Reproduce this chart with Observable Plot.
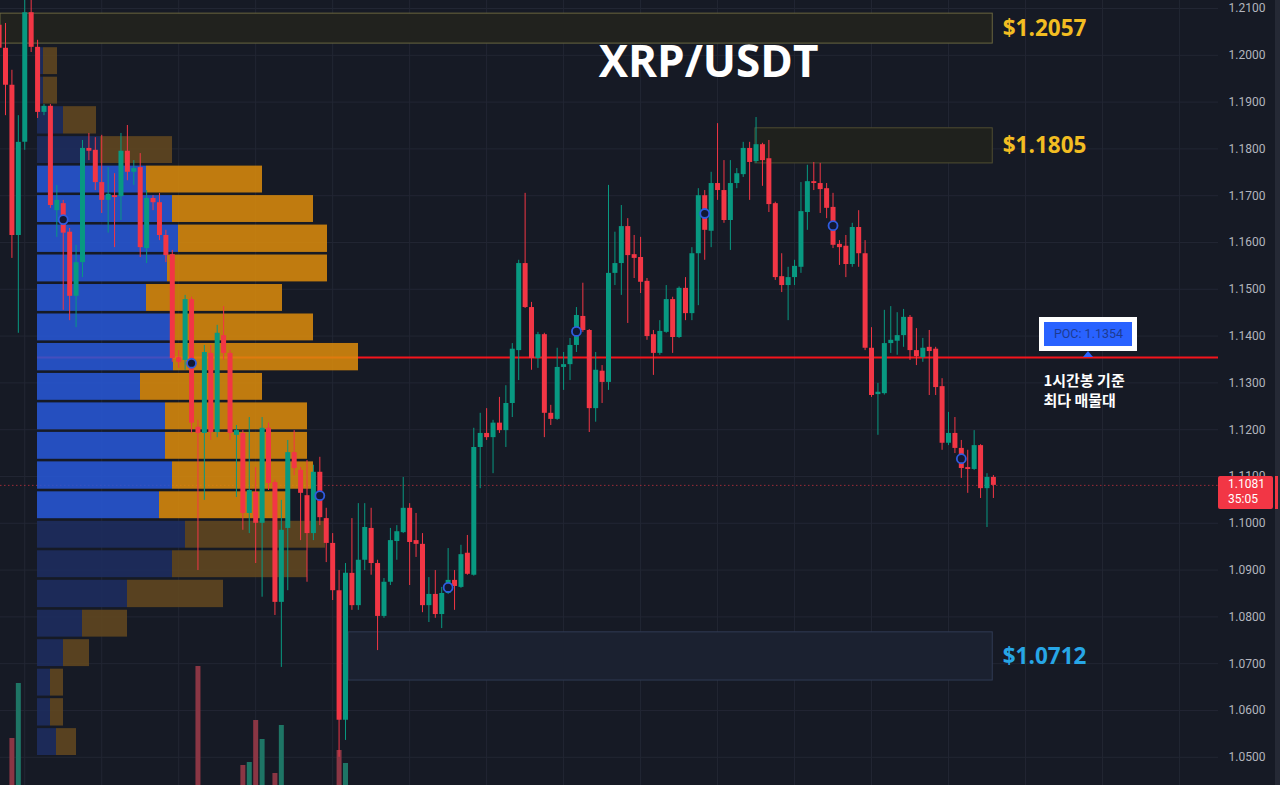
<!DOCTYPE html>
<html><head><meta charset="utf-8">
<script src="https://cdn.jsdelivr.net/npm/d3@7"></script>
<script src="https://cdn.jsdelivr.net/npm/@observablehq/plot@0.6"></script>
<style>
html,body{margin:0;padding:0;background:#161a25;}
#wrap{position:relative;width:1280px;height:785px;overflow:hidden;background:#161a25;}
#wrap svg{position:absolute;left:0;top:0;}
.ov{position:absolute;box-sizing:border-box;}
</style></head><body><div id="wrap"></div>
<script>
// ---------- data (1h candles, index -1 .. 154) ----------
const firstIndex = -1;
const opens = [1.2064,1.2015,1.1936,1.1615,1.1814,1.2091,1.2017,1.1878,1.1891,1.1668,1.1683,1.1622,1.1485,1.1557,1.1801,1.1797,1.1728,1.1690,1.1700,1.1698,1.1795,1.1750,1.1760,1.1587,1.1694,1.1685,1.1615,1.1574,1.1354,1.1348,1.1478,1.1205,1.1192,1.1363,1.1194,1.1401,1.1363,1.1188,1.1192,1.1021,1.1066,1.1000,1.1203,1.1087,1.0831,1.0989,1.1151,1.1113,1.1059,1.0978,1.1109,1.1010,1.0957,1.0856,1.0579,1.0893,1.0824,1.0921,1.0989,1.0914,1.0801,1.0874,1.0961,1.0980,1.1032,1.0963,1.0955,1.0824,1.0848,1.0805,1.0850,1.0878,1.0863,1.0936,1.0889,1.1162,1.1192,1.1183,1.1214,1.1198,1.1256,1.1369,1.1555,1.1461,1.1352,1.1403,1.1235,1.1222,1.1333,1.1339,1.1380,1.1442,1.1412,1.1245,1.1325,1.1301,1.1534,1.1555,1.1634,1.1574,1.1568,1.1517,1.1403,1.1363,1.1408,1.1478,1.1397,1.1502,1.1448,1.1576,1.1700,1.1624,1.1726,1.1711,1.1647,1.1726,1.1745,1.1801,1.1773,1.1809,1.1779,1.1683,1.1527,1.1508,1.1525,1.1547,1.1664,1.1730,1.1726,1.1715,1.1675,1.1596,1.1592,1.1553,1.1632,1.1576,1.1374,1.1275,1.1277,1.1384,1.1389,1.1401,1.1440,1.1369,1.1354,1.1376,1.1372,1.1292,1.1171,1.1192,1.1160,1.1119,1.1115,1.1166,1.1074,1.1098];
const highs = [1.2079,1.2068,1.1968,1.1871,1.2125,1.2122,1.2032,1.1895,1.1895,1.1722,1.1690,1.1630,1.1594,1.1818,1.1833,1.1824,1.1829,1.1760,1.1747,1.1833,1.1850,1.1775,1.1790,1.1711,1.1700,1.1705,1.1626,1.1583,1.1369,1.1487,1.1483,1.1220,1.1380,1.1380,1.1423,1.1463,1.1369,1.1209,1.1198,1.1226,1.1119,1.1226,1.1214,1.1092,1.1049,1.1177,1.1198,1.1119,1.1134,1.1124,1.1141,1.1032,1.0978,1.0899,1.0914,1.1010,1.1042,1.1042,1.1032,1.0921,1.0882,1.0989,1.0995,1.1098,1.1042,1.1021,1.0978,1.0884,1.0899,1.0863,1.0946,1.0899,1.0953,1.0974,1.1203,1.1235,1.1245,1.1220,1.1269,1.1294,1.1384,1.1562,1.1705,1.1472,1.1408,1.1406,1.1252,1.1374,1.1365,1.1395,1.1461,1.1513,1.1414,1.1365,1.1337,1.1722,1.1622,1.1679,1.1651,1.1615,1.1611,1.1523,1.1412,1.1433,1.1508,1.1483,1.1505,1.1525,1.1589,1.1715,1.1711,1.1750,1.1854,1.1775,1.1775,1.1758,1.1814,1.1814,1.1867,1.1812,1.1818,1.1686,1.1576,1.1547,1.1562,1.1728,1.1765,1.1771,1.1769,1.1726,1.1705,1.1604,1.1615,1.1641,1.1668,1.1604,1.1418,1.1299,1.1455,1.1463,1.1450,1.1457,1.1444,1.1416,1.1395,1.1412,1.1376,1.1309,1.1237,1.1226,1.1177,1.1156,1.1198,1.1168,1.1106,1.1102];
const lows = [1.2010,1.1871,1.1566,1.1406,1.1797,1.2006,1.1865,1.1871,1.1673,1.1611,1.1455,1.1433,1.1418,1.1525,1.1775,1.1711,1.1662,1.1620,1.1589,1.1647,1.1732,1.1722,1.1568,1.1555,1.1668,1.1604,1.1557,1.1344,1.1331,1.1327,1.1192,1.0899,1.1049,1.1177,1.1183,1.1348,1.1177,1.1055,1.0985,1.0978,1.0914,1.0842,1.1070,1.0803,1.0692,1.0856,1.1102,1.0963,1.0874,1.0963,1.0995,1.0916,1.0835,1.0500,1.0536,1.0814,1.0814,1.0899,1.0889,1.0728,1.0797,1.0867,1.0921,1.0978,1.0867,1.0927,1.0809,1.0788,1.0797,1.0775,1.0848,1.0814,1.0861,1.0889,1.0887,1.1074,1.1177,1.1106,1.1192,1.1162,1.1226,1.1305,1.1459,1.1327,1.1331,1.1183,1.1209,1.1220,1.1284,1.1305,1.1365,1.1408,1.1194,1.1216,1.1256,1.1284,1.1508,1.1487,1.1427,1.1523,1.1491,1.1391,1.1316,1.1359,1.1406,1.1363,1.1395,1.1433,1.1433,1.1465,1.1562,1.1589,1.1690,1.1641,1.1583,1.1715,1.1739,1.1690,1.1769,1.1720,1.1664,1.1519,1.1493,1.1433,1.1508,1.1534,1.1626,1.1711,1.1662,1.1651,1.1587,1.1551,1.1525,1.1547,1.1547,1.1369,1.1269,1.1188,1.1274,1.1363,1.1359,1.1376,1.1348,1.1337,1.1344,1.1273,1.1273,1.1156,1.1166,1.1149,1.1096,1.1064,1.1113,1.1053,1.0991,1.1053];
const closes = [1.2015,1.1936,1.1615,1.1814,1.2091,1.2017,1.1878,1.1891,1.1679,1.1690,1.1620,1.1485,1.1557,1.1801,1.1795,1.1728,1.1690,1.1703,1.1696,1.1795,1.1750,1.1758,1.1589,1.1694,1.1685,1.1615,1.1572,1.1352,1.1344,1.1478,1.1214,1.1192,1.1365,1.1194,1.1406,1.1363,1.1192,1.1198,1.1021,1.1070,1.1000,1.1203,1.1085,1.0831,1.0985,1.1151,1.1117,1.1064,1.0978,1.1109,1.1012,1.0957,1.0856,1.0579,1.0893,1.0824,1.0921,1.0991,1.0914,1.0801,1.0874,1.0963,1.0982,1.1032,1.0959,1.0955,1.0824,1.0848,1.0805,1.0850,1.0878,1.0865,1.0933,1.0891,1.1162,1.1192,1.1183,1.1214,1.1198,1.1256,1.1372,1.1555,1.1461,1.1352,1.1403,1.1235,1.1222,1.1333,1.1339,1.1380,1.1444,1.1412,1.1245,1.1327,1.1301,1.1534,1.1555,1.1634,1.1572,1.1566,1.1515,1.1399,1.1363,1.1410,1.1478,1.1397,1.1502,1.1448,1.1576,1.1700,1.1626,1.1726,1.1711,1.1647,1.1726,1.1747,1.1801,1.1771,1.1809,1.1775,1.1681,1.1525,1.1508,1.1525,1.1549,1.1666,1.1730,1.1726,1.1713,1.1673,1.1594,1.1589,1.1553,1.1632,1.1576,1.1374,1.1273,1.1280,1.1384,1.1391,1.1401,1.1440,1.1369,1.1356,1.1374,1.1367,1.1290,1.1171,1.1192,1.1160,1.1117,1.1115,1.1166,1.1074,1.1098,1.1081];

// volume (only bars tall enough to show in the cropped pane)
const volIndex = [1,2,30,37,38,39,40,42,43,52,53];
const volValue = [4.7,10.2,11.9,2.0,2.3,6.5,4.6,1.2,6.0,3.5,2.2];

// volume profile (bins low -> high)
const binEdges = [1.0501,1.0564,1.0628,1.0691,1.0754,1.0817,1.0881,1.0944,1.1007,1.1070,1.1134,1.1197,1.1260,1.1323,1.1387,1.1450,1.1513,1.1576,1.1640,1.1703,1.1766,1.1829,1.1893,1.1956,1.2019];
const upVol   = [19,13,13,26,45,90,135,148,122,135,128,128,103,136,133,109,130,141,135,109,63,26,6,6];
const downVol = [20,13,13,26,45,96,135,140,128,141,142,142,122,185,143,136,160,149,141,116,72,33,14,14];
const valueAreaLow = 1.1007, valueAreaHigh = 1.1766;
const pocPrice = 1.1354;

// markers
const markerIndex = [9,29,49,69,89,109,129,149];
const markerPrice = [1.1649,1.1342,1.1059,1.0863,1.1410,1.1662,1.1636,1.1138];

// zones
const boxTop    = [1.2089,1.1844,1.0767];
const boxBottom = [1.2025,1.1769,1.0664];
const boxStart  = [-0.78,116.9,53.5];
const boxEnd    = [153.9,153.9,153.9];
const boxLabel  = ["$1.2057","$1.1805","$1.0712"];

// axes
const priceTicks = [1.05,1.06,1.07,1.08,1.09,1.10,1.11,1.12,1.13,1.14,1.15,1.16,1.17,1.18,1.19,1.20,1.21];
const timeGrid = [3,15,27,39,51,63,75,87,99,111,123,135,147,159,171,183];
const lastClose = 1.1081, countdown = "35:05";
const pocLabelIndex = 168.9, noteIndex = 161.8;

// ---------- build ----------
const W = 1280, H = 785, MR = 62;
const xDomain = [-0.78, 189.09];
const yDomain = [1.04397, 1.21171];
const GREEN = "#089981", RED = "#f23645";

const candles = opens.map((o,k)=>({i: firstIndex+k, o, h: highs[k], l: lows[k], c: closes[k]}));
const colorOf = d => d.c >= d.o ? GREEN : RED;
const byIndex = new Map(candles.map(d=>[d.i,d]));
const vols = volIndex.map((i,k)=>({i, v: volValue[k], up: byIndex.get(i).c >= byIndex.get(i).o}));
const bins = upVol.map((u,k)=>({lo: binEdges[k], hi: binEdges[k+1], up: u, down: downVol[k],
  va: binEdges[k] >= valueAreaLow - 1e-6 && binEdges[k+1] <= valueAreaHigh + 1e-6}));
const boxes = boxTop.map((t,k)=>({top:t, bottom: boxBottom[k], start: boxStart[k], end: boxEnd[k], label: boxLabel[k], k}));
const markers = markerIndex.map((i,k)=>({i, p: markerPrice[k]}));
const volMax = 1181;

const common = {width: W, height: H, marginLeft: 0, marginRight: MR, marginTop: 0, marginBottom: 0,
  color: {type: "identity"}};

const base = Plot.plot({...common,
  style: {background: "#161a25"},
  x: {domain: xDomain, axis: null},
  y: {domain: yDomain, axis: null},
  marks: [
    Plot.ruleY(priceTicks, {stroke: "#222633", strokeWidth: 1}),
    Plot.ruleX(timeGrid, {stroke: "#222633", strokeWidth: 1}),
    Plot.ruleY([lastClose], {stroke: RED, strokeOpacity: 0.6, strokeDasharray: "1.5,2.5"})
  ]
});

const profile = Plot.plot({...common, marginLeft: 37,
  style: {background: "transparent"},
  x: {domain: [0, volMax], axis: null},
  y: {domain: yDomain, axis: null},
  marks: [
    Plot.ruleY([pocPrice], {x1: 0, x2: volMax, stroke: "#f5141c", strokeWidth: 2}),
    Plot.rect(bins, {x1: 0, x2: "up", y1: "lo", y2: "hi", insetTop: 1.3, insetBottom: 1.3,
      fill: d => d.va ? "#2858d8" : "#1d2d61", fillOpacity: 0.86}),
    Plot.rect(bins, {x1: "up", x2: d => d.up + d.down, y1: "lo", y2: "hi", insetTop: 1.3, insetBottom: 1.3,
      fill: d => d.va ? "#dc8c0c" : "#63481f", fillOpacity: 0.86})
  ]
});

const volume = Plot.plot({...common,
  style: {background: "transparent"},
  x: {domain: xDomain, axis: null},
  y: {domain: [0, 78.5], axis: null},
  marks: [
    Plot.ruleX(vols, {x: "i", y1: 0, y2: "v", strokeWidth: 5, stroke: d => d.up ? "#1e7565" : "#8a3644"})
  ]
});

const main = Plot.plot({...common,
  style: {background: "transparent", color: "#b2b5be", fontFamily: "Roboto, 'Noto Sans', sans-serif", fontSize: "12px"},
  x: {domain: xDomain, axis: null},
  y: {domain: yDomain, axis: "right", ticks: priceTicks, tickFormat: d => d.toFixed(4), tickSize: 0, tickPadding: 10, label: null},
  marks: [
    Plot.rect(boxes, {x1: "start", x2: "end", y1: "bottom", y2: "top",
      fill: d => ["#21221e","#1f211d","#1b2130"][d.k], stroke: d => ["#6a6640","#4f4d31","#303b54"][d.k], strokeWidth: 1}),
    Plot.ruleX(candles, {x: "i", y1: "l", y2: "h", stroke: colorOf, strokeWidth: 1}),
    Plot.ruleX(candles, {x: "i", y1: "o", y2: "c", stroke: colorOf, strokeWidth: 5}),
    Plot.dot(markers, {x: "i", y: "p", r: 4.5, fill: "#121833", stroke: "#2f5ce0", strokeWidth: 1.8}),
    Plot.text(boxes, {x: "end", y: d => (d.top + d.bottom) / 2, text: "label", dx: 10, textAnchor: "start", lineAnchor: "middle",
      fill: d => d.k === 2 ? "#27a6e6" : "#f2bd22", fontSize: 22.5, fontWeight: 700, fontFamily: "'Open Sans', sans-serif"}),
    Plot.text(["XRP/USDT"], {frameAnchor: "top-left", text: d => d, dx: 708, dy: 62, textAnchor: "middle", lineAnchor: "middle",
      fill: "#ffffff", fontSize: 44, fontWeight: 700, fontFamily: "'Open Sans', sans-serif"}),
    Plot.text(["1시간봉 기준\n최다 매물대"], {x: noteIndex, y: pocPrice, text: d => d, dy: 32, textAnchor: "start", lineAnchor: "middle",
      lineHeight: 1.33, fill: "#ffffff", fontSize: 15, fontWeight: 700, fontFamily: "'Noto Sans CJK KR', sans-serif"})
  ]
});

const wrap = document.getElementById("wrap");
[base, profile, volume, main].forEach(s => wrap.appendChild(s));

const xs = main.scale("x"), ys = main.scale("y");

// right edge strip
const strip = document.createElement("div");
strip.className = "ov";
Object.assign(strip.style, {left: "1275px", top: "0px", width: "5px", height: H + "px", background: "#252935"});
wrap.appendChild(strip);

// POC label
const py = ys.apply(pocPrice), px = xs.apply(pocLabelIndex);
const poc = document.createElement("div");
poc.className = "ov";
Object.assign(poc.style, {left: (px - 49) + "px", top: (py - 40) + "px", width: "98px", height: "34px",
  border: "5px solid #ffffff", background: "#2962ff", color: "#1d3b92", font: "12.5px Roboto, sans-serif",
  textAlign: "center", lineHeight: "24px", whiteSpace: "nowrap"});
poc.textContent = "POC: " + pocPrice.toFixed(4);
wrap.appendChild(poc);
const tri = document.createElement("div");
tri.className = "ov";
Object.assign(tri.style, {left: (px - 5) + "px", top: (py - 6) + "px", width: "0", height: "0",
  borderLeft: "5px solid transparent", borderRight: "5px solid transparent", borderBottom: "6px solid #2962ff"});
wrap.appendChild(tri);

// last price tag
const ty = ys.apply(lastClose);
const tag = document.createElement("div");
tag.className = "ov";
Object.assign(tag.style, {left: "1218px", top: (ty - 8.5) + "px", width: "55px", height: "33px", background: RED,
  color: "#ffffff", font: "12px Roboto, sans-serif", lineHeight: "15px", paddingLeft: "10px", paddingTop: "1px", borderRadius: "2px"});
tag.innerHTML = lastClose.toFixed(4) + "<br>" + countdown;
wrap.appendChild(tag);
const tagEdge = document.createElement("div");
tagEdge.className = "ov";
Object.assign(tagEdge.style, {left: "1275px", top: (ty - 8.5) + "px", width: "3px", height: "33px", background: RED});
wrap.appendChild(tagEdge);
</script>
</body></html>
